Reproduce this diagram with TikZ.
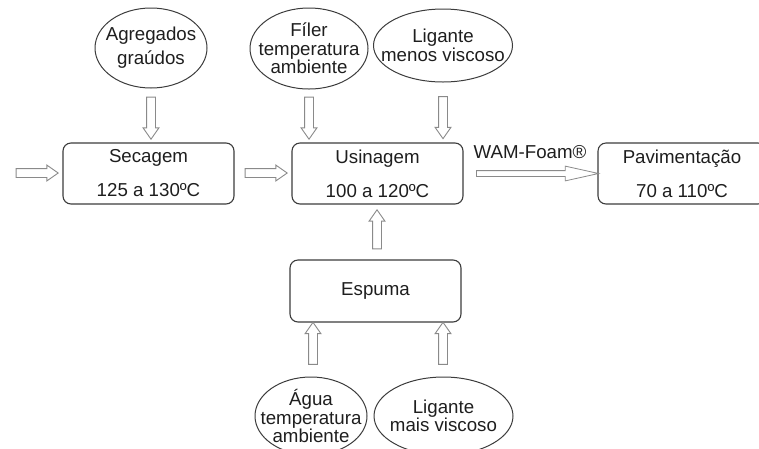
\documentclass[tikz,border=0pt]{standalone}
\usepackage{fontspec}
\setmainfont{Liberation Sans}
\usetikzlibrary{shapes.geometric,shapes.arrows}
\definecolor{txt}{HTML}{1E1E1E}
\definecolor{boxline}{HTML}{3C3C3C}
\definecolor{arrgray}{HTML}{8A8A8A}
\newcommand\zw[1]{\makebox[0pt]{#1}}
\begin{document}
\begin{tikzpicture}[x=1pt,y=-1pt,
  every node/.style={text=txt},
  fnt/.style={font=\fontsize{18.7}{18.5}\selectfont},
  procbox/.style={draw=boxline,line width=1.1pt,rounded corners=8pt,minimum width=171pt,minimum height=61pt,inner sep=0pt,align=center,font=\fontsize{18.7}{34}\selectfont},
  oval/.style={ellipse,draw=boxline,line width=1pt,inner sep=0pt,align=center,fnt},
  hollow/.style={single arrow,draw=arrgray,line width=0.9pt,inner sep=4pt,text height=0pt,text depth=0pt,single arrow head extend=3.5pt,single arrow tip angle=70,minimum height=42pt},
  thinarrow/.style={single arrow,draw=arrgray,line width=0.8pt,inner sep=2.5pt,text height=0pt,text depth=0pt,single arrow head extend=4.5pt,single arrow tip angle=25,minimum height=122pt}
]
\useasboundingbox (0,0) rectangle (759,448);

% ellipses
\node[oval,minimum width=112pt,minimum height=80pt] (agr) at (151,48) {\zw{Agregados}\\[5.5pt]\zw{graúdos}};
\node[oval,minimum width=118pt,minimum height=81pt] (fil) at (309,48.5) {\zw{Fíler}\\\zw{temperatura}\\\zw{ambiente}};
\node[oval,minimum width=139pt,minimum height=73pt] (lmen) at (443,45.5) {\zw{Ligante}\\\zw{menos viscoso}};
\node[oval,minimum width=112pt,minimum height=78pt] (agua) at (311,416) {\zw{Água}\\\zw{temperatura}\\\zw{ambiente}};
\node[oval,minimum width=139pt,minimum height=78pt] (lmais) at (443.5,416) {\zw{Ligante}\\\zw{mais viscoso}};

% boxes
\node[procbox] (sec) at (148.5,173.5) {Secagem\\125 a 130ºC};
\node[procbox] (usi) at (377.5,173.5) {Usinagem\\100 a 120ºC};
\node[procbox,minimum width=168pt] (pav) at (682,173.5) {Pavimentação\\70 a 110ºC};
\node[procbox,minimum height=62pt,font=\fontsize{18.7}{18.5}\selectfont] (esp) at (375.5,291) {Espuma};

% hollow arrows
\node[hollow,shape border rotate=270] (a1) at (151,115) {};
\node[hollow,shape border rotate=270] (a2) at (309,115) {};
\node[hollow,shape border rotate=270] (a3) at (443,114.5) {};
\node[hollow] (a4) at (34,173) {};
\node[hollow] (a5) at (263,173) {};
\node[hollow,shape border rotate=90,minimum height=39pt] (a6) at (377,232.5) {};
\node[hollow,shape border rotate=90] (a7) at (313,346.5) {};
\node[hollow,shape border rotate=90] (a8) at (443,346.5) {};
\node[thinarrow] (a9) at (531,173.5) {};
\node[fnt,inner sep=0pt] (wam) at (530,152) {WAM-Foam®};
\end{tikzpicture}
\end{document}
